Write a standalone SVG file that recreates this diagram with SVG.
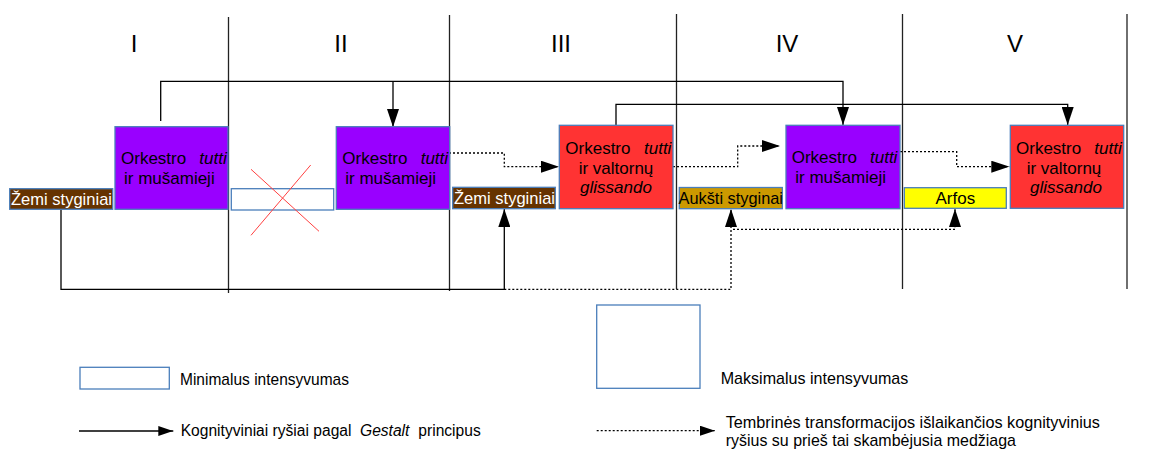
<svg xmlns="http://www.w3.org/2000/svg" width="1157" height="453" viewBox="0 0 1157 453">
<defs>
<style>
text{font-family:"Liberation Sans",Arial,sans-serif;fill:#000}
.num{font-size:24px}
.t{font-size:17px}
.lab{font-size:17px}
.leg{font-size:17px}
.leg2{font-size:15.6px}
.it{font-style:italic}
.box{stroke:#4a7ebb;stroke-width:1.3}
.vl{stroke:#222;stroke-width:1.3;fill:none}
.solid{stroke:#000;stroke-width:1.3;fill:none}
.dot{stroke:#000;stroke-width:1.3;fill:none;stroke-dasharray:2,2}
</style>
<marker id="arr" markerUnits="userSpaceOnUse" markerWidth="18" markerHeight="12" refX="18" refY="6" orient="auto">
<path d="M0,0 L18,6 L0,12 z" fill="#000"/>
</marker>
<marker id="arrs" markerUnits="userSpaceOnUse" markerWidth="15" markerHeight="10" refX="15" refY="5" orient="auto">
<path d="M0,0 L15,5 L0,10 z" fill="#000"/>
</marker>
</defs>
<rect width="1157" height="453" fill="#fff"/>
<g id="columns">
<line class="vl" x1="228.5" y1="17" x2="228.5" y2="293"/>
<line class="vl" x1="449.5" y1="15" x2="449.5" y2="291"/>
<line class="vl" x1="676.5" y1="14" x2="676.5" y2="289"/>
<line class="vl" x1="902.5" y1="14" x2="902.5" y2="289"/>
<line class="vl" x1="1127" y1="14" x2="1127" y2="289"/>
<text class="num" x="134" y="52" text-anchor="middle">I</text>
<text class="num" x="341" y="52" text-anchor="middle">II</text>
<text class="num" x="561" y="52" text-anchor="middle">III</text>
<text class="num" x="787" y="52" text-anchor="middle">IV</text>
<text class="num" x="1015" y="52" text-anchor="middle">V</text>
</g>
<g id="connectors">
<path class="solid" d="M160.7,121 V81.3 H843 V125" marker-end="url(#arr)"/>
<path class="solid" d="M393,81.3 V127" marker-end="url(#arr)"/>
<path class="solid" d="M616,125 V104.3 H1067.7 V125" marker-end="url(#arr)"/>
<path class="solid" d="M61,209 V289.3 H504.3 V209" marker-end="url(#arr)"/>
<path class="dot" d="M504.3,289.3 H731 V209" marker-end="url(#arr)"/>
<path class="dot" d="M733,229.3 H955 V209" marker-end="url(#arr)"/>
<path class="dot" d="M449,153 H504.3 V166.7 H559" marker-end="url(#arr)"/>
<path class="dot" d="M673,166.7 H737.7 V146 H780" marker-end="url(#arr)"/>
<path class="dot" d="M900,151.7 H956.7 V166.7 H1009.3" marker-end="url(#arr)"/>
</g>
<g id="zemi1">
<rect class="box" x="9.7" y="188.7" width="103" height="20.6" fill="#663300"/>
<text class="lab" x="11" y="204.5" textLength="101" lengthAdjust="spacingAndGlyphs" style="fill:#fff">Žemi styginiai</text>
</g>
<g id="tutti1">
<rect class="box" x="115" y="126.7" width="113" height="82.6" fill="#9900ff"/>
<text class="t" x="121" y="164">Orkestro<tspan class="it" x="199.3">tutti</tspan></text>
<text class="t" x="124" y="184">ir mušamieji</text>
</g>
<g id="empty">
<rect class="box" x="231.3" y="188.7" width="102.4" height="21.3" fill="#fff"/>
<line x1="251" y1="169.3" x2="319" y2="231.3" stroke="#ff4040" stroke-width="1"/>
<line x1="310.7" y1="165" x2="251" y2="235.3" stroke="#ff4040" stroke-width="1"/>
</g>
<g id="tutti2">
<rect class="box" x="336.3" y="126.7" width="113.4" height="82.6" fill="#9900ff"/>
<text class="t" x="342.3" y="164">Orkestro<tspan class="it" x="420.7">tutti</tspan></text>
<text class="t" x="345.3" y="184">ir mušamieji</text>
</g>
<g id="zemi2">
<rect class="box" x="452.7" y="187.3" width="102.6" height="21.4" fill="#663300"/>
<text class="lab" x="454" y="204" textLength="101" lengthAdjust="spacingAndGlyphs" style="fill:#fff">Žemi styginiai</text>
</g>
<g id="valtornu1">
<rect class="box" x="559.3" y="125.3" width="113.7" height="83.4" fill="#ff3333"/>
<text class="t" x="565.3" y="154">Orkestro<tspan class="it" x="644">tutti</tspan></text>
<text class="t" x="616" y="173.5" text-anchor="middle">ir valtornų</text>
<text class="t it" x="616" y="193" text-anchor="middle">glissando</text>
</g>
<g id="auksti">
<rect class="box" x="679.3" y="187.5" width="103" height="21.2" fill="#cc9900"/>
<text class="lab" x="678.5" y="204" textLength="104.5" lengthAdjust="spacingAndGlyphs">Aukšti styginai</text>
</g>
<g id="tutti3">
<rect class="box" x="786" y="125.3" width="114" height="83.4" fill="#9900ff"/>
<text class="t" x="791.7" y="163.3">Orkestro<tspan class="it" x="870">tutti</tspan></text>
<text class="t" x="795.3" y="183">ir mušamieji</text>
</g>
<g id="arfos">
<rect class="box" x="904.3" y="187.7" width="102" height="20.6" fill="#ffff00"/>
<text class="lab" x="955.3" y="204" text-anchor="middle">Arfos</text>
</g>
<g id="valtornu2">
<rect class="box" x="1010.3" y="125.3" width="113.4" height="83" fill="#ff3333"/>
<text class="t" x="1016" y="154">Orkestro<tspan class="it" x="1094.3">tutti</tspan></text>
<text class="t" x="1064" y="173.5" text-anchor="middle">ir valtornų</text>
<text class="t it" x="1066" y="193" text-anchor="middle">glissando</text>
</g>
<g id="legend">
<rect class="box" x="80" y="367.3" width="89.3" height="21.7" fill="#fff"/>
<text class="leg" x="180" y="385" textLength="169" lengthAdjust="spacingAndGlyphs">Minimalus intensyvumas</text>
<rect class="box" x="596.7" y="305" width="103.3" height="83.3" fill="#fff"/>
<text class="leg" x="720.7" y="384.3" textLength="187.6" lengthAdjust="spacingAndGlyphs">Maksimalus intensyvumas</text>
<line class="solid" x1="79" y1="431" x2="173.3" y2="431" marker-end="url(#arrs)"/>
<text class="leg2" x="180.7" y="435.5">Kognityviniai ryšiai pagal</text>
<text class="leg2 it" x="360" y="435.5">Gestalt</text>
<text class="leg2" x="418.3" y="435.5">principus</text>
<line class="dot" x1="596.7" y1="430.7" x2="715" y2="430.7" marker-end="url(#arrs)"/>
<text class="leg" x="725.7" y="428.3" textLength="374.3" lengthAdjust="spacingAndGlyphs">Tembrinės transformacijos išlaikančios kognityvinius</text>
<text class="leg" x="725.7" y="446" textLength="290.3" lengthAdjust="spacingAndGlyphs">ryšius su prieš tai skambėjusia medžiaga</text>
</g>
</svg>
